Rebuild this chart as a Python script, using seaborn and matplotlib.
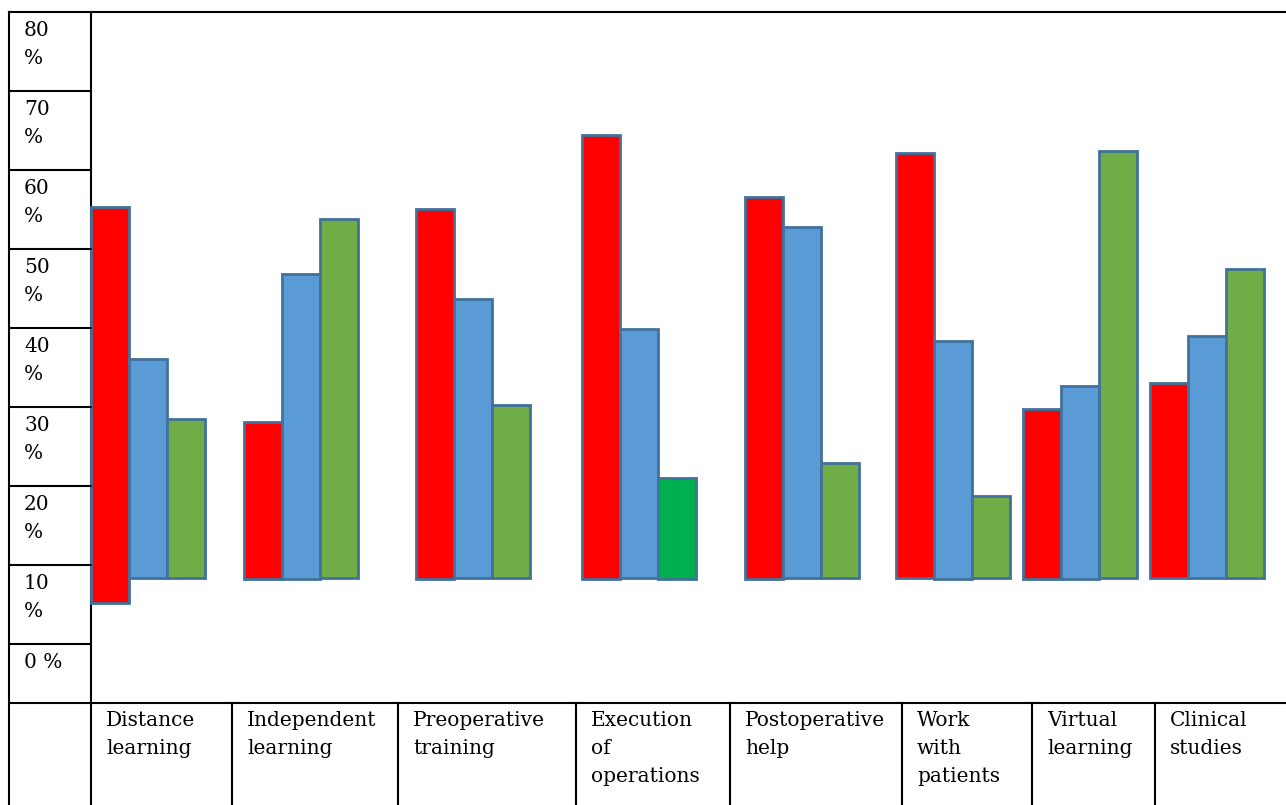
import numpy as np
import matplotlib
matplotlib.use("Agg")
import matplotlib.pyplot as plt
import seaborn as sns

# ---------------- data ----------------
categories = [
    ["Distance", "learning"],
    ["Independent", "learning"],
    ["Preoperative", "training"],
    ["Execution", "of", "operations"],
    ["Postoperative", "help"],
    ["Work", "with", "patients"],
    ["Virtual", "learning"],
    ["Clinical", "studies"],
]
levels = [80, 70, 60, 50, 40, 30, 20, 10, 0]
level_labels = [["80", "%"], ["70", "%"], ["60", "%"], ["50", "%"], ["40", "%"],
                ["30", "%"], ["20", "%"], ["10", "%"], ["0 %"]]

red_top = [55.3, 28.1, 55.1, 64.4, 56.6, 62.2, 29.7, 33.0]
red_bottom = [5.2, 8.2, 8.2, 8.2, 8.2, 8.4, 8.2, 8.4]
blue_top = [36.1, 46.8, 43.7, 39.9, 52.8, 38.4, 32.7, 39.0]
blue_bottom = [8.4, 8.2, 8.4, 8.4, 8.4, 8.2, 8.2, 8.4]
green_top = [28.5, 53.8, 30.3, 21.0, 22.9, 18.7, 62.4, 47.5]
green_bottom = [8.4, 8.4, 8.4, 8.2, 8.4, 8.4, 8.4, 8.4]

red_colors = ["#FF0000"] * 8
blue_colors = ["#5B9BD5"] * 8
green_colors = ["#70AD47", "#70AD47", "#70AD47", "#00B050",
                "#70AD47", "#70AD47", "#70AD47", "#70AD47"]
edge_color = "#41719C"

# ---------------- layout (pixels) ----------------
W, H = 1286, 805
col_edges = [91, 232, 398, 576, 730, 902, 1032, 1155, W]
outer_left = 9
table_top = 12
plot_bottom = 703
zero_y = 644           # pixel row of the 0 % level
px_per_unit = (zero_y - table_top) / 80.0
group_shift = -14
bar_w = 38
FS = 14.5
line_pitch = 28

sns.set_style("white")
plt.rcParams["font.family"] = ["DejaVu Serif"]

fig = plt.figure(figsize=(W / 100, H / 100), dpi=100)
lay = fig.add_axes([0, 0, 1, 1])
lay.set_xlim(0, W)
lay.set_ylim(H, 0)
lay.axis("off")

ax = fig.add_axes([0, 0, 1, 1])

centers = [(a + b) / 2 + group_shift for a, b in zip(col_edges[:-1], col_edges[1:])]

series = [
    (red_top, red_bottom, red_colors, -bar_w),
    (blue_top, blue_bottom, blue_colors, 0),
    (green_top, green_bottom, green_colors, bar_w),
]
for tops, bottoms, colors, off in series:
    xs = np.array(centers) + off
    heights = np.array(tops) - np.array(bottoms)
    native = np.min(np.diff(np.sort(xs)))
    n0 = len(ax.patches)
    sns.barplot(x=xs, y=heights, native_scale=True, orient="x", ax=ax,
                width=bar_w / native, bottom=bottoms, color=colors[0],
                saturation=1, errorbar=None, edgecolor=edge_color,
                linewidth=2.0)
    for p, c in zip(ax.patches[n0:], colors):
        p.set_facecolor(c)

ax.set_xlim(0, W)
ax.set_ylim(-(H - zero_y) / px_per_unit, zero_y / px_per_unit)
ax.axis("off")

lw = 1.5
# table frame
lay.plot([outer_left, W], [table_top, table_top], color="black", lw=lw, solid_capstyle="projecting")
lay.plot([outer_left, W], [plot_bottom, plot_bottom], color="black", lw=lw)
lay.plot([outer_left, outer_left], [table_top, H], color="black", lw=lw, solid_capstyle="projecting")
for x in col_edges[:-1]:
    y0 = table_top if x == col_edges[0] else plot_bottom
    lay.plot([x, x], [y0, H], color="black", lw=lw, solid_capstyle="projecting")

# level rows in the left column
for lvl, lab in zip(levels, level_labels):
    if lvl < 80:
        ax.plot([outer_left, col_edges[0]], [lvl, lvl], color="black", lw=lw)
    for k, t in enumerate(lab):
        ax.annotate(t, xy=(24, lvl), xytext=(0, -9 - k * line_pitch),
                    textcoords="offset pixels", ha="left", va="top",
                    fontsize=FS, color="black")

# category labels
for i, lines in enumerate(categories):
    for k, t in enumerate(lines):
        lay.text(col_edges[i] + 15, 711 + k * line_pitch, t, ha="left", va="top",
                 fontsize=FS, color="black")

fig.savefig("out.png", dpi=100)
